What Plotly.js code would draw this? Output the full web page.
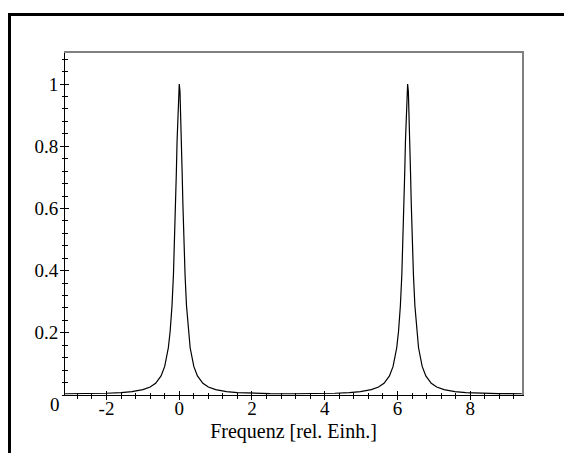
<!DOCTYPE html>
<html>
<head>
<meta charset="utf-8">
<script src="https://cdn.plot.ly/plotly-3.0.1.min.js"></script>
<style>
  html, body { margin: 0; padding: 0; background: #fff; }
  #wrap { position: relative; width: 564px; height: 453px; overflow: hidden; }
  #chart { position: absolute; left: 0; top: 0; width: 564px; height: 453px; }
  #frame { position: absolute; left: 8px; top: 13px; right: -10px; bottom: -10px;
           border-top: 3px solid #000; border-left: 3px solid #000; pointer-events: none; }
</style>
</head>
<body>
<div id="wrap">
  <div id="chart"></div>
  <div id="frame"></div>
</div>
<script>
// Values
const freq = [
  -3.14, -2.5, -2.0, -1.6, -1.3, -1.0, -0.8, -0.65, -0.5, -0.4, -0.3, -0.25, -0.2, -0.16, -0.13, -0.1, -0.08, -0.06, -0.04, -0.02,
  0.0,
  0.02, 0.04, 0.06, 0.08, 0.1, 0.13, 0.16, 0.2, 0.25, 0.3, 0.4, 0.5, 0.65, 0.8, 1.0, 1.3, 1.6, 2.0, 2.5,
  3.14,
  3.78, 4.28, 4.68, 4.98, 5.28, 5.48, 5.63, 5.78, 5.88, 5.98, 6.03, 6.08, 6.12, 6.15, 6.18, 6.20, 6.22, 6.24, 6.26,
  6.28,
  6.30, 6.32, 6.34, 6.36, 6.38, 6.41, 6.44, 6.48, 6.53, 6.58, 6.68, 6.78, 6.93, 7.08, 7.28, 7.58, 7.88, 8.28, 8.78,
  9.42
];
const intensity = [
  0.004, 0.0044, 0.0056, 0.0077, 0.0108, 0.0171, 0.0257, 0.0378, 0.0613, 0.092, 0.152, 0.205, 0.286, 0.385, 0.486, 0.615, 0.714, 0.816, 0.909, 0.976,
  1.0,
  0.976, 0.909, 0.816, 0.714, 0.615, 0.486, 0.385, 0.286, 0.205, 0.152, 0.092, 0.0613, 0.0378, 0.0257, 0.0171, 0.0108, 0.0077, 0.0056, 0.0044,
  0.004,
  0.0044, 0.0056, 0.0077, 0.0108, 0.0171, 0.0257, 0.0378, 0.0613, 0.092, 0.152, 0.205, 0.286, 0.385, 0.486, 0.615, 0.714, 0.816, 0.909, 0.976,
  1.0,
  0.976, 0.909, 0.816, 0.714, 0.615, 0.486, 0.385, 0.286, 0.205, 0.152, 0.092, 0.0613, 0.0378, 0.0257, 0.0171, 0.0108, 0.0077, 0.0056, 0.0044,
  0.004
];
const xTickVals = [-2, 0, 2, 4, 6, 8];
const xTickText = ['-2', '0', '2', '4', '6', '8'];
const yTickVals = [0.2, 0.4, 0.6, 0.8, 1];
const yTickText = ['0.2', '0.4', '0.6', '0.8', '1'];
const xRange = [-3.1416, 9.4248];
const yRange = [0, 1.1];
const xTitle = 'Frequenz [rel. Einh.]';

const FONT = 'Liberation Serif';
const tickFont = { family: FONT, size: 19, color: '#000' };

const trace = {
  x: freq, y: intensity, type: 'scatter', mode: 'lines',
  line: { color: '#000', width: 1.2 }, hoverinfo: 'skip', showlegend: false
};
// empty helper traces so the overlay axes (inside ticks, grey box edges) get drawn
const helper2 = { x: [], y: [], type: 'scatter', mode: 'lines', xaxis: 'x2', yaxis: 'y2', showlegend: false, hoverinfo: 'skip' };
const helper3 = { x: [], y: [], type: 'scatter', mode: 'lines', xaxis: 'x3', yaxis: 'y3', showlegend: false, hoverinfo: 'skip' };

const baseX = { range: xRange, autorange: false, showgrid: false, zeroline: false, fixedrange: true };
const baseY = { range: yRange, autorange: false, showgrid: false, zeroline: false, fixedrange: true };

const layout = {
  width: 564, height: 453,
  margin: { l: 65, r: 42, t: 53, b: 58, pad: 0 },
  paper_bgcolor: '#fff', plot_bgcolor: 'rgba(0,0,0,0)',
  showlegend: false,
  font: { family: FONT, color: '#000' },
  xaxis: Object.assign({}, baseX, {
    tickmode: 'array', tickvals: xTickVals, ticktext: xTickText,
    ticks: 'outside', ticklen: 4, tickwidth: 1, tickcolor: '#000',
    minor: { tickmode: 'linear', tick0: 0, dtick: 0.4, ticks: 'outside', ticklen: 2.5, tickwidth: 1, tickcolor: '#000', showgrid: false },
    showline: true, linecolor: '#000', linewidth: 1,
    tickfont: tickFont, ticklabelstandoff: -8,
    title: { text: xTitle, font: { family: FONT, size: 20, color: '#000' }, standoff: 6 }
  }),
  xaxis2: Object.assign({}, baseX, {
    overlaying: 'x', anchor: 'y2', side: 'bottom',
    tickmode: 'array', tickvals: xTickVals, showticklabels: false,
    ticks: 'inside', ticklen: 4, tickwidth: 1, tickcolor: '#000',
    minor: { tickmode: 'linear', tick0: 0, dtick: 0.4, ticks: 'inside', ticklen: 2.5, tickwidth: 1, tickcolor: '#000', showgrid: false },
    showline: false
  }),
  xaxis3: Object.assign({}, baseX, {
    overlaying: 'x', anchor: 'y3', side: 'top',
    showticklabels: false, ticks: '',
    showline: true, linecolor: '#808080', linewidth: 2
  }),
  yaxis: Object.assign({}, baseY, {
    tickmode: 'array', tickvals: yTickVals, ticktext: yTickText,
    ticks: 'outside', ticklen: 4, tickwidth: 1, tickcolor: '#000',
    minor: { tickmode: 'linear', tick0: 0, dtick: 0.04, ticks: 'outside', ticklen: 2.5, tickwidth: 1, tickcolor: '#000', showgrid: false },
    showline: true, linecolor: '#000', linewidth: 1,
    tickfont: tickFont, ticklabelstandoff: -2
  }),
  yaxis2: Object.assign({}, baseY, {
    overlaying: 'y', anchor: 'x2', side: 'left',
    tickmode: 'array', tickvals: yTickVals, showticklabels: false,
    ticks: 'inside', ticklen: 4, tickwidth: 1, tickcolor: '#000',
    minor: { tickmode: 'linear', tick0: 0, dtick: 0.04, ticks: 'inside', ticklen: 2.5, tickwidth: 1, tickcolor: '#000', showgrid: false },
    showline: false
  }),
  yaxis3: Object.assign({}, baseY, {
    overlaying: 'y', anchor: 'x3', side: 'right',
    showticklabels: false, ticks: '',
    showline: true, linecolor: '#808080', linewidth: 2
  }),
  annotations: [{
    xref: 'paper', yref: 'y', x: 0, y: 0, text: '0',
    showarrow: false, xanchor: 'right', yanchor: 'middle',
    xshift: -3, yshift: -9, font: tickFont
  }]
};

Plotly.newPlot('chart', [trace, helper2, helper3], layout, { staticPlot: true, displayModeBar: false });
</script>
</body>
</html>
